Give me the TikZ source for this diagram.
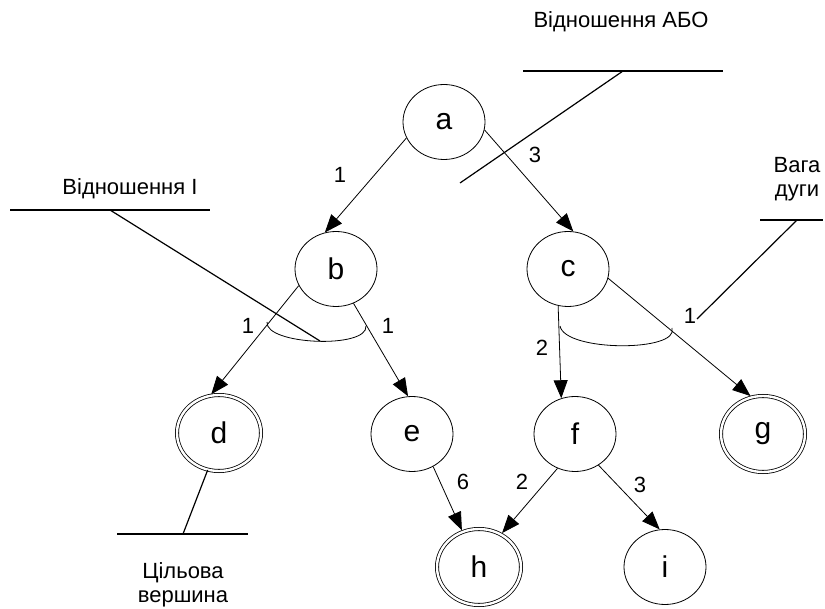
\documentclass[tikz,border=0pt]{standalone}
\usepackage{fontspec}
\setmainfont{Liberation Sans}
\usetikzlibrary{arrows.meta,shapes.geometric}
\begin{document}
\begin{tikzpicture}[x=1pt,y=-1pt,
  vertex/.style={ellipse,draw,line width=0.8pt,minimum width=82pt,minimum height=75pt,
    inner sep=0pt,font=\fontsize{30}{34}\selectfont},
  goal/.style={vertex,double,double distance=2.4pt,minimum width=84pt,minimum height=76pt},
  edge/.style={line width=0.8pt,-{Triangle[length=18pt,width=14pt]}},
  togoal/.style={edge,shorten >=1.5pt},
  weight/.style={font=\fontsize{22}{26}\selectfont,inner sep=0pt},
  note/.style={font=\fontsize{22}{24}\selectfont,align=center,inner sep=0pt},
  leader/.style={line width=1.2pt},
  andarc/.style={line width=0.8pt}]
\useasboundingbox (0,0) rectangle (825,609);

% vertices
\node[vertex] (a) at (444,122) {a};
\node[vertex] (b) at (336,269) {b};
\node[vertex] (c) at (568,269) {c};
\node[goal]   (d) at (219,433) {d};
\node[vertex] (e) at (412,434) {e};
\node[vertex] (f) at (575,434) {f};
\node[goal]   (g) at (763,434) {g};
\node[goal]   (h) at (479,567) {h};
\node[vertex] (i) at (665,567) {i};

% arcs
\draw[edge]   (a.203) -- (b.107);
\draw[edge]   (a.349) -- (c.82);
\draw[togoal] (b.204) -- (d.103);
\draw[edge]   (b.297) -- (e.96);
\draw[edge]   (c.255) -- (f.111);
\draw[togoal] (c.347) -- (g.107);
\draw[togoal] (e.303) -- (h.115);
\draw[togoal] (f.243) -- (h.56);
\draw[edge]   (f.307) -- (i.98);

% arc weights
\node[weight] (wab) at (340,175) {1};
\node[weight] (wac) at (535,155) {3};
\node[weight] (wbd) at (248,326) {1};
\node[weight] (wbe) at (388,326) {1};
\node[weight] (wcf) at (542,348) {2};
\node[weight] (wcg) at (690,316) {1};
\node[weight] (weh) at (463,482) {6};
\node[weight] (wfh) at (522,482) {2};
\node[weight] (wfi) at (640,485) {3};

% AND links
\draw[andarc] (267,322) .. controls (265,345) and (368,349) .. (366,326);
\draw[andarc] (560,326) .. controls (565,352) and (680,352) .. (672,328);

% annotations
\node[note,anchor=base] (ornote) at (621,28) {Відношення АБО};
\coordinate (orL) at (523,71);
\coordinate (orR) at (723,71);
\coordinate (orK) at (623,71);
\coordinate (orT) at (460,183);
\draw[leader] (orL) -- (orR);
\draw[leader] (orK) -- (orT);

\node[note,anchor=base] (andnote) at (130,195) {Відношення І};
\coordinate (andL) at (10,210);
\coordinate (andR) at (210,210);
\coordinate (andK) at (110,210);
\coordinate (andT) at (320,341);
\draw[leader] (andL) -- (andR);
\draw[leader] (andK) -- (andT);

\node[note] (wnote) at (797,179) {Вага\\дуги};
\coordinate (wL) at (760,220);
\coordinate (wR) at (823,220);
\coordinate (wK) at (797,220);
\coordinate (wT) at (697,319);
\draw[leader] (wL) -- (wR);
\draw[leader] (wK) -- (wT);

\node[note] (gnote) at (183,585) {Цільова\\вершина};
\coordinate (gL) at (117,534);
\coordinate (gR) at (248,534);
\coordinate (gK) at (183,534);
\draw[leader] (gL) -- (gR);
\draw[leader] (gK) -- (d.253);
\end{tikzpicture}
\end{document}
